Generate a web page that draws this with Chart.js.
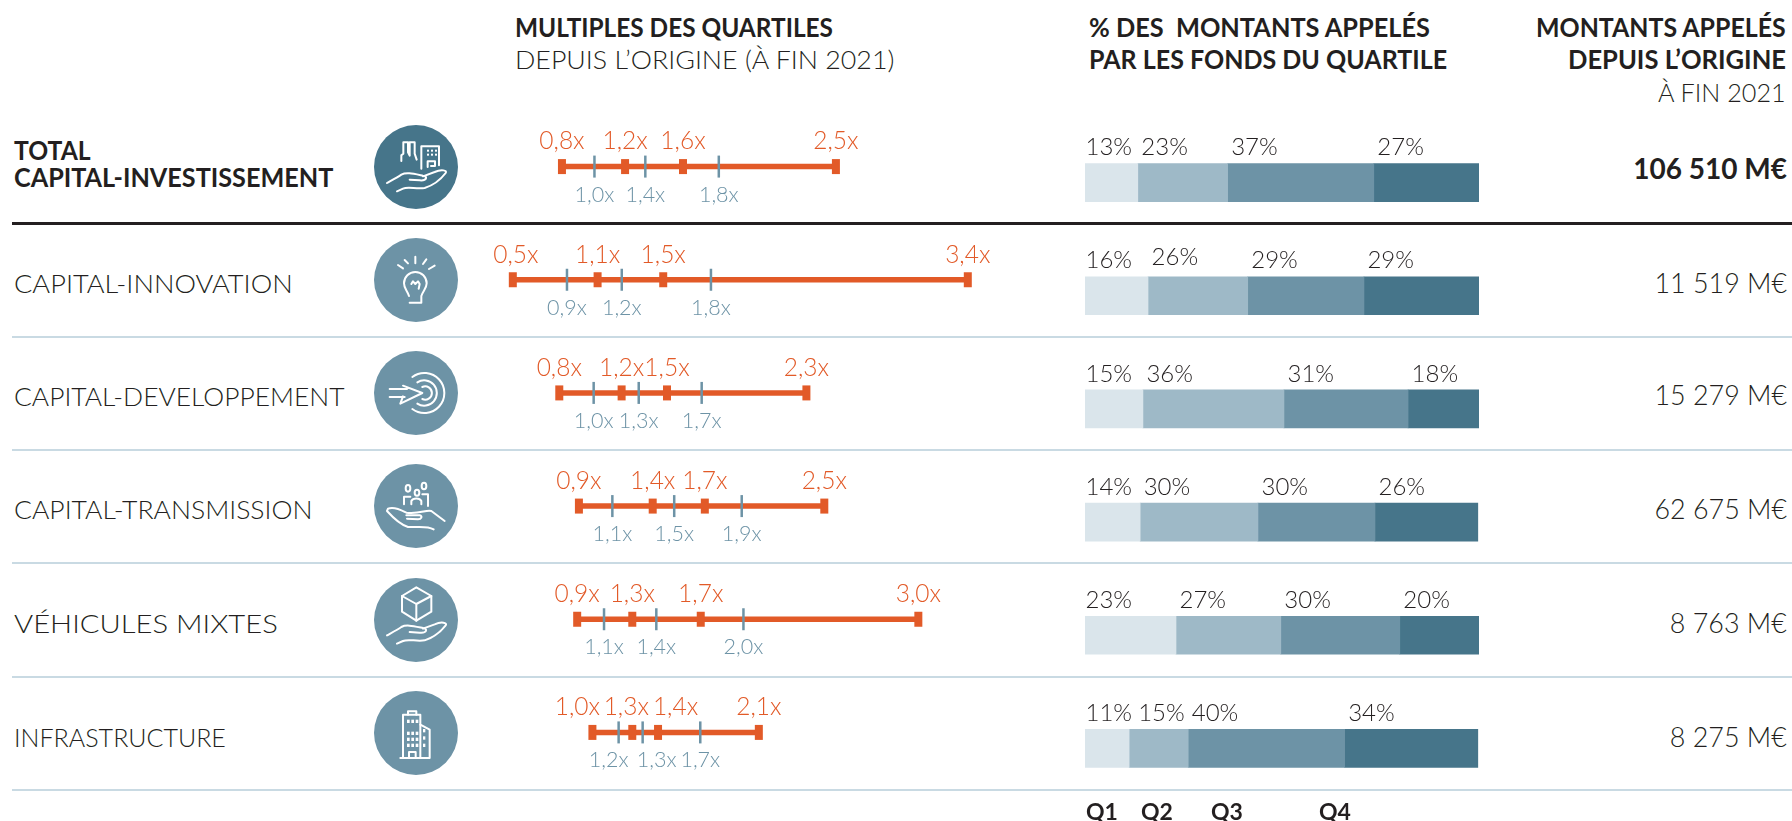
<!DOCTYPE html>
<html lang="fr">
<head>
<meta charset="utf-8">
<title>Multiples des quartiles</title>
<script src="https://cdn.jsdelivr.net/npm/chart.js@4"></script>
<style>
    html, body { margin: 0; background: #fff; }
    #page { position: relative; width: 1792px; height: 821px; overflow: hidden; font-family: Lato, sans-serif; color: #231f20; }
    canvas { position: absolute; }
    .t { position: absolute; white-space: pre; line-height: 1; font-weight: 300; }
    .b { font-weight: 700; }
    .rule { position: absolute; left: 12px; right: 0; height: 2px; background: #c9dae3; }
    .icon { position: absolute; width: 84px; height: 84px; border-radius: 50%; }
</style>
</head>
<body>
<div id="page">
    <canvas id="multiplesChart" width="628" height="679" style="left:434px;top:110px"></canvas>
    <canvas id="shareChart" width="394" height="679" style="left:1085px;top:126px"></canvas>
</div>
<script>
const categories = ['TOTAL CAPITAL-INVESTISSEMENT', 'CAPITAL-INNOVATION', 'CAPITAL-DEVELOPPEMENT', 'CAPITAL-TRANSMISSION', 'VÉHICULES MIXTES', 'INFRASTRUCTURE'];

// low, Q2-ish marks and high of each strategy
const orangeValues = [
    [0.815, 1.217, 1.586, 2.56],
    [0.502, 1.042, 1.46, 3.40],
    [0.798, 1.195, 1.484, 2.372],
    [0.923, 1.393, 1.725, 2.486],
    [0.912, 1.263, 1.699, 3.085],
    [1.009, 1.263, 1.427, 2.069]
];
const blueValues = [
    [1.022, 1.346, 1.814],
    [0.847, 1.196, 1.764],
    [1.017, 1.304, 1.705],
    [1.136, 1.53, 1.96],
    [1.083, 1.416, 1.971],
    [1.176, 1.329, 1.696]
];
const orangeLabels = [
    ['0,8x', '1,2x', '1,6x', '2,5x'],
    ['0,5x', '1,1x', '1,5x', '3,4x'],
    ['0,8x', '1,2x', '1,5x', '2,3x'],
    ['0,9x', '1,4x', '1,7x', '2,5x'],
    ['0,9x', '1,3x', '1,7x', '3,0x'],
    ['1,0x', '1,3x', '1,4x', '2,1x']
];
const blueLabels = [
    ['1,0x', '1,4x', '1,8x'],
    ['0,9x', '1,2x', '1,8x'],
    ['1,0x', '1,3x', '1,7x'],
    ['1,1x', '1,5x', '1,9x'],
    ['1,1x', '1,4x', '2,0x'],
    ['1,2x', '1,3x', '1,7x']
];

const quartileNames = ['Q1', 'Q2', 'Q3', 'Q4'];
const q1Share = [13.4, 16.0, 14.7, 14.0, 23.1, 11.2];
const q2Share = [22.8, 25.3, 35.8, 29.9, 26.6, 15.0];
const q3Share = [37.1, 29.5, 31.5, 29.7, 30.2, 39.7];
const q4Share = [26.7, 29.2, 18.0, 26.1, 20.1, 33.8];
const shareLabels = [
    ['13%', '23%', '37%', '27%'],
    ['16%', '26%', '29%', '29%'],
    ['15%', '36%', '31%', '18%'],
    ['14%', '30%', '30%', '26%'],
    ['23%', '27%', '30%', '20%'],
    ['11%', '15%', '40%', '34%']
];
const amounts = ['106 510 M€', '11 519 M€', '15 279 M€', '62 675 M€', '8 763 M€', '8 275 M€'];

const ORANGE = '#e25a28';
const BLUE = '#6d93a6';
const SHADES = ['#dae5eb', '#9eb9c7', '#6d93a6', '#46758a'];
const LABEL_FONT = '300 24.5px Lato, sans-serif';
const BLUE_FONT = '300 21.5px Lato, sans-serif';
const SHARE_FONT = '300 24px Lato, sans-serif';

// labels that the original pushes sideways so they do not collide
const orangeNudge = { '1,0': 3, '5,0': -15, '5,1': -6, '5,2': 17.5 };
const blueNudge = { '5,0': -10, '5,1': 14 };

const rangeLines = orangeValues.map((vals, row) => ({
    type: 'scatter',
    showLine: true,
    data: [{ x: vals[0], y: row }, { x: vals[3], y: row }],
    borderColor: ORANGE,
    borderWidth: 5.5,
    pointRadius: 0,
    order: 3
}));

const multiplesLabels = {
    id: 'multiplesLabels',
    afterDatasetsDraw(chart) {
        const { ctx, scales } = chart;
        ctx.save();
        ctx.textAlign = 'center';
        ctx.textBaseline = 'middle';
        orangeValues.forEach((vals, row) => {
            const y = scales.y.getPixelForValue(row);
            ctx.font = LABEL_FONT;
            ctx.fillStyle = ORANGE;
            vals.forEach((v, i) => {
                ctx.fillText(orangeLabels[row][i], scales.x.getPixelForValue(v) + (orangeNudge[row + ',' + i] || 0), y - 25);
            });
            ctx.font = BLUE_FONT;
            ctx.fillStyle = BLUE;
            blueValues[row].forEach((v, i) => {
                ctx.fillText(blueLabels[row][i], scales.x.getPixelForValue(v) + (blueNudge[row + ',' + i] || 0), y + 28);
            });
        });
        ctx.restore();
    }
};

new Chart(document.getElementById('multiplesChart'), {
    type: 'scatter',
    data: {
        datasets: [
            ...rangeLines,
            {
                data: orangeValues.flatMap((vals, row) => vals.map(v => ({ x: v, y: row }))),
                pointStyle: 'line',
                pointRotation: 90,
                pointRadius: 7.5,
                borderColor: ORANGE,
                borderWidth: 8,
                order: 2
            },
            {
                data: blueValues.flatMap((vals, row) => vals.map(v => ({ x: v, y: row }))),
                pointStyle: 'line',
                pointRotation: 90,
                pointRadius: 11,
                borderColor: BLUE,
                borderWidth: 2.5,
                order: 1
            }
        ]
    },
    options: {
        responsive: false,
        animation: false,
        layout: { autoPadding: false },
        plugins: { legend: { display: false }, tooltip: { enabled: false } },
        scales: {
            x: { display: false, min: 0, max: 4 },
            y: { display: false, min: -0.5, max: 5.5, reverse: true }
        }
    },
    plugins: [multiplesLabels]
});

const shareSeries = [q1Share, q2Share, q3Share, q4Share];

const shareText = {
    id: 'shareText',
    afterDatasetsDraw(chart) {
        const { ctx, scales } = chart;
        ctx.save();
        ctx.font = SHARE_FONT;
        ctx.fillStyle = '#231f20';
        ctx.textAlign = 'left';
        ctx.textBaseline = 'middle';
        categories.forEach((cat, row) => {
            let sum = 0;
            shareSeries.forEach((series, q) => {
                let dx = q === 0 ? 0.5 : 3.5, dy = -35;
                if (row === 5 && q === 1) dx = 9;
                if (row === 1 && q === 1) dy = -38;
                ctx.fillText(shareLabels[row][q], scales.x.getPixelForValue(sum) + dx, scales.y.getPixelForValue(row) + dy);
                sum += series[row];
            });
        });
        ctx.restore();
    }
};

new Chart(document.getElementById('shareChart'), {
    type: 'bar',
    data: {
        labels: categories,
        datasets: shareSeries.map((series, q) => ({
            label: quartileNames[q],
            data: series,
            backgroundColor: SHADES[q],
            barThickness: 38
        }))
    },
    options: {
        indexAxis: 'y',
        responsive: false,
        animation: false,
        layout: { autoPadding: false },
        plugins: { legend: { display: false }, tooltip: { enabled: false } },
        scales: {
            x: { display: false, stacked: true, min: 0, max: 100 },
            y: { display: false, stacked: true }
        }
    },
    plugins: [shareText]
});

// everything around the two charts is plain positioned text
const page = document.getElementById('page');

function addText(str, x, y, size, opts) {
    const o = opts || {};
    const el = document.createElement('div');
    el.className = 't' + (o.bold ? ' b' : '');
    el.textContent = str;
    el.style.fontSize = size + 'px';
    el.style.top = y + 'px';
    if (o.right) el.style.right = (1792 - x) + 'px';
    else el.style.left = x + 'px';
    page.appendChild(el);
    const sx = o.sx || (o.w ? o.w / el.offsetWidth : 1);
    el.style.transformOrigin = o.right ? 'right center' : 'left center';
    el.style.transform = 'translateY(-50%) scaleX(' + sx + ')';
}

addText('MULTIPLES DES QUARTILES', 515, 27, 26, { bold: true, w: 318 });
addText('DEPUIS L’ORIGINE (À FIN 2021)', 515, 59, 26, { w: 379 });
addText('% DES  MONTANTS APPELÉS', 1089, 27, 26, { bold: true, w: 341 });
addText('PAR LES FONDS DU QUARTILE', 1089, 59, 26, { bold: true, w: 358 });
addText('MONTANTS APPELÉS', 1786, 27, 26, { bold: true, right: true, w: 250 });
addText('DEPUIS L’ORIGINE', 1786, 59, 26, { bold: true, right: true, w: 218 });
addText('À FIN 2021', 1786, 92, 26, { right: true, w: 128 });

addText('TOTAL', 14, 150, 26, { bold: true, w: 77 });
addText('CAPITAL-INVESTISSEMENT', 14, 177, 26, { bold: true, w: 319 });
addText(categories[1], 14, 283, 26, { w: 279 });
addText(categories[2], 14, 396, 26, { w: 331 });
addText(categories[3], 14, 509, 26, { w: 299 });
addText(categories[4], 14, 623, 26, { w: 264 });
addText(categories[5], 14, 737, 26, { w: 212 });

const amountY = [168, 282, 394, 508, 622, 736];
amounts.forEach((a, i) => addText(a, 1787, amountY[i], 28, { bold: i === 0, right: true, sx: i === 0 ? 1 : 0.96 }));

const qX = [1086, 1141, 1211, 1319];
quartileNames.forEach((q, i) => addText(q, qX[i], 811, 23, { bold: true }));

const ruleY = [337, 450, 563, 677, 790];
ruleY.forEach(y => {
    const r = document.createElement('div');
    r.className = 'rule';
    r.style.top = (y - 1) + 'px';
    page.appendChild(r);
});
const thick = document.createElement('div');
thick.className = 'rule';
thick.style.cssText = 'top:222px;height:3px;background:#231f20';
page.appendChild(thick);

// line icons, drawn in a 252 unit box centred on 139,140
const hand = '<path d="M52 188C70 178 85 170 95 163C110 155 130 160 160 166C175 168 172 182 150 180L120 178"/><path d="M160 168L195 155C215 146 234 150 228 158C215 175 190 195 165 203C140 207 115 198 100 205L82 213"/>';
let windows = '';
[[172, 88], [184, 88], [196, 88], [172, 100], [184, 100], [196, 100]].forEach(p => { windows += '<rect x="' + p[0] + '" y="' + p[1] + '" width="6" height="6" fill="#fff" stroke="none"/>'; });
let towerWindows = '';
[100, 136, 154, 172].forEach(wy => { [112, 125, 138].forEach(wx => { towerWindows += '<rect x="' + wx + '" y="' + wy + '" width="8" height="10" fill="#fff" stroke="none"/>'; }); });
[128, 150, 172].forEach(wy => { towerWindows += '<rect x="160" y="' + wy + '" width="7" height="10" fill="#fff" stroke="none"/>'; });

const icons = [
    hand + '<path d="M95 122V105L101 100V66H115V96L120 106V66H135V100L141 118"/><path d="M155 145V78H208V135"/>' + windows + '<path d="M174 140V123H196V137H184"/>',
    '<path d="M118 188C112 170 103 165 103 150A34 34 0 1 1 171 150C171 165 160 172 155 188V208H120"/><path d="M125 152L130 144L137 152L145 144L150 152L147 166"/><path d="M85 95L100 105M105 80L115 90M137 70V90M170 78L160 92M195 97L178 107"/>',
    '<path d="M60 128H112M60 152H105M100 118L158 140L92 172L100 150"/><path d="M128 92A60 60 0 1 1 128 188"/><path d="M143 108A38 38 0 1 1 143 172"/><path d="M158 122A20 20 0 1 1 158 158"/>',
    '<path d="M225 185L185 155C170 150 150 165 110 160C100 155 75 140 55 148L52 155C70 175 90 195 115 203C140 205 170 198 192 210"/><path d="M110 168H150C160 170 155 180 145 180L112 178"/><ellipse cx="115" cy="87" rx="7" ry="10"/><ellipse cx="142" cy="100" rx="7" ry="9"/><ellipse cx="163" cy="80" rx="7" ry="10"/><path d="M103 135V112H122M125 135V125C130 115 150 115 155 125V135M158 105H175V140"/>',
    hand.replace(/<path /g, '<path transform="translate(0 -2)" ') + '<path d="M140 42L97 68V115L140 142L185 115V68Z"/><path d="M97 68L140 92L185 68M140 92V142"/>',
    '<path d="M100 215V85H152V215Z"/><path d="M115 85V75H140V85"/><path d="M152 115L180 130V215H92"/><path d="M118 215V197H138V215"/>' + towerWindows
];

icons.forEach((inner, i) => {
    const el = document.createElement('div');
    el.className = 'icon';
    el.style.left = '374px';
    el.style.top = (166.7 + i * 113.2 - 42) + 'px';
    el.style.background = i === 0 ? SHADES[3] : SHADES[2];
    el.innerHTML = '<svg xmlns="http://www.w3.org/2000/svg" viewBox="13 14 252 252" width="84" height="84" fill="none" stroke="#fff" stroke-width="6" stroke-linecap="round" stroke-linejoin="round">' + inner + '</svg>';
    page.appendChild(el);
});
</script>
</body>
</html>
